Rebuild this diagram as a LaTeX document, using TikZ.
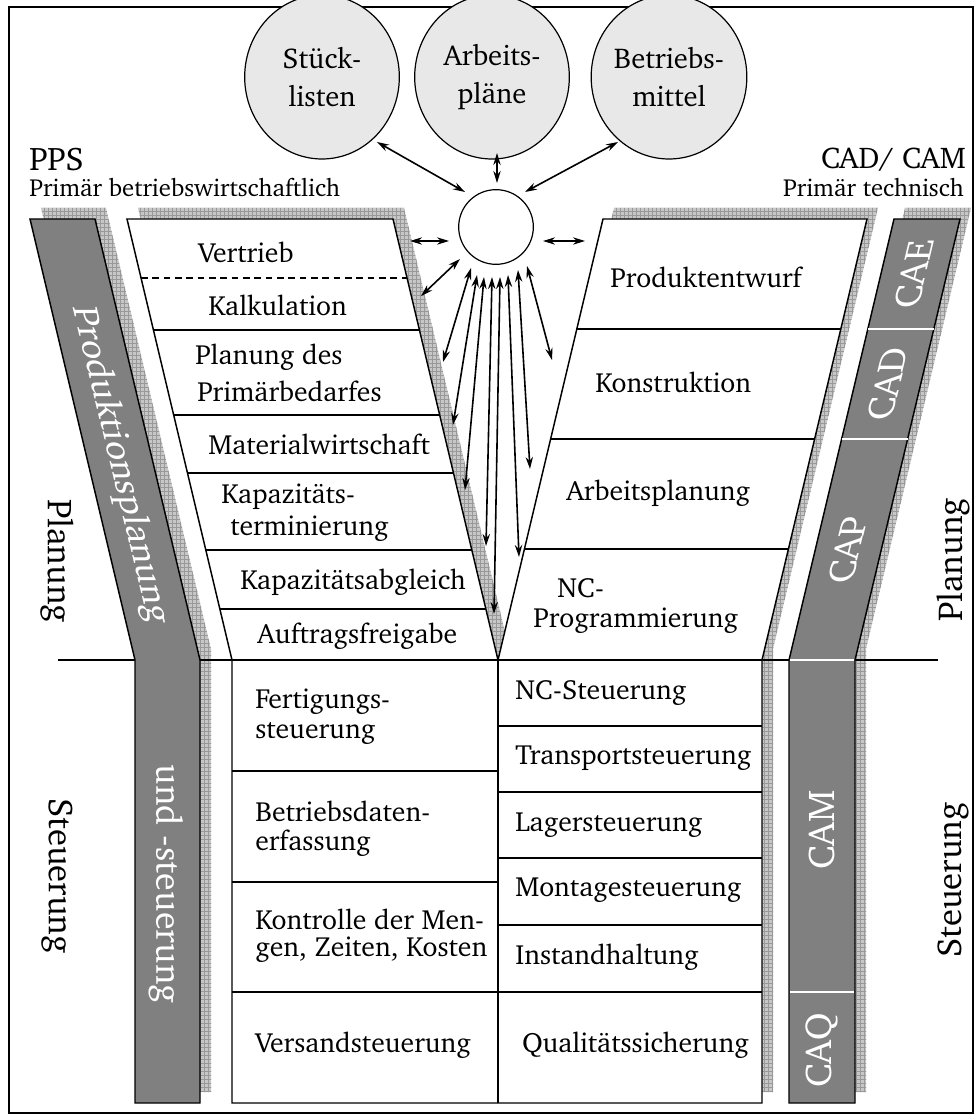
\documentclass[tikz,border=0pt]{standalone}
\usepackage[T1]{fontenc}
\usepackage{charter}
\usetikzlibrary{arrows.meta,patterns,shapes.geometric}
\begin{document}
\begin{tikzpicture}[x=0.75pt,y=-0.75pt,
  shade/.style={fill=black!22,postaction={pattern=grid,pattern color=black!40}},
  whitebox/.style={fill=white,draw=black,line width=1.1pt},
  band/.style={fill=black!50,draw=black,line width=1.1pt},
  sep/.style={draw=black,line width=1.1pt},
  wsep/.style={draw=white,line width=1.1pt},
  lbl/.style={font=\fontsize{20.8}{26}\selectfont,inner sep=0pt},
  lblL/.style={lbl,anchor=west},
  bandtxt/.style={text=white,font=\fontsize{27}{30}\selectfont,inner sep=0pt},
  captxt/.style={text=white,font=\fontsize{28}{30}\selectfont,inner sep=0pt},
  side/.style={font=\fontsize{26}{28}\selectfont,inner sep=0pt},
  head/.style={font=\fontsize{22.5}{26}\selectfont,inner sep=0pt},
  subhead/.style={font=\fontsize{18.5}{22}\selectfont,inner sep=0pt},
  db/.style={ellipse,draw=black,line width=0.9pt,fill=black!9,minimum width=116,minimum height=123,inner sep=0pt,align=center,font=\fontsize{21.5}{28}\selectfont},
  arr/.style={{Stealth[length=9pt,width=5.5pt]}-{Stealth[length=9pt,width=5.5pt]},line width=1.2pt},
]
\useasboundingbox (0,0) rectangle (980,1119);
\def\kk{0.2381}
% outer frame
\draw[line width=1.6pt] (9,7) rectangle (973,1113);

% ---------- hatched shadows ----------
\begin{scope}[shift={(11,-11)}]
  \path[shade] (30,219) -- (95,219) -- (200,660) -- (200,1103) -- (135,1103) -- (135,660) -- cycle;
  \path[shade] (127,219) -- (393,219) -- (498,660) -- (603,219) -- (867,219) -- (762,660)
     -- (762,1103) -- (232,1103) -- (232,660) -- cycle;
  \path[shade] (894,219) -- (960,219) -- (855,660) -- (855,1103) -- (789,1103) -- (789,660) -- cycle;
\end{scope}

% border between planning and control
\draw[line width=1pt] (58,660) coordinate (hl) -- (938,660) coordinate (hr);

% ---------- left band: Produktionsplanung und -steuerung ----------
\path[band] (30,219) -- (95,219) -- (200,660) -- (200,1103) -- (135,1103) -- (135,660) -- cycle;
\node[bandtxt,rotate=-90,yslant=0.24] (pp) at (120,465) {Produktionsplanung};
\node[bandtxt,rotate=-90] (ps) at (166,884) {und -steuerung};

% ---------- right band: CAE, CAD, CAP, CAM, CAQ ----------
\path[band] (894,219) -- (960,219) -- (855,660) -- (855,1103) -- (789,1103) -- (789,660) -- cycle;
\foreach \yy in {329,439} {
  \draw[wsep] ({894-\kk*(\yy-219)},\yy) -- ({960-\kk*(\yy-219)},\yy);
}
\draw[wsep] (790,660) -- (854,660);
\draw[wsep] (790,992) -- (854,992);
\node[captxt,rotate=90,yslant=-0.24] (cae) at (914,274) {CAE};
\node[captxt,rotate=90,yslant=-0.24] (cad) at (888,384) {CAD};
\node[captxt,rotate=90,yslant=-0.24] (cap) at (848,550) {CAP};
\node[captxt,rotate=90] (cam) at (822,830) {CAM};
\node[captxt,rotate=90] (caq) at (822,1050) {CAQ};

% ---------- Y-shaped body ----------
\path[whitebox] (127,219) -- (393,219) -- (498,660) -- (603,219) -- (867,219) -- (762,660)
   -- (762,1103) -- (232,1103) -- (232,660) -- cycle;
\draw[sep] (232,660) -- (762,660);
\draw[sep] (498,660) -- (498,1103);
% left funnel rows
\draw[sep,dashed,dash pattern=on 5pt off 3.5pt] ({127+\kk*(278-219)},278) -- ({393+\kk*(278-219)},278);
\foreach \yy in {330,415,473,550,609} {
  \draw[sep] ({127+\kk*(\yy-219)},\yy) -- ({393+\kk*(\yy-219)},\yy);
}
% right funnel rows
\foreach \yy in {329,439,549} {
  \draw[sep] ({603-\kk*(\yy-219)},\yy) -- ({867-\kk*(\yy-219)},\yy);
}
% control rows
\foreach \yy in {771,882,992} { \draw[sep] (232,\yy) -- (498,\yy); }
\foreach \yy in {726,792,858,925,992} { \draw[sep] (498,\yy) -- (762,\yy); }

% ---------- labels: PPS side ----------
\node[lblL] (vt) at (198,252) {Vertrieb};
\node[lblL] (kk) at (208,305) {Kalkulation};
\node[lblL] (pb1) at (195,357) {Planung des};
\node[lblL] (pb2) at (197,391) {Prim\"arbedarfes};
\node[lblL] (mw) at (208,444) {Materialwirtschaft};
\node[lblL] (kt1) at (221,497) {Kapazit\"ats-};
\node[lblL] (kt2) at (230,529) {terminierung};
\node[lblL] (ka) at (240,582) {Kapazit\"atsabgleich};
\node[lblL] (af) at (257,636) {Auftragsfreigabe};
\node[lblL] (fs1) at (255,702) {Fertigungs-};
\node[lblL] (fs2) at (255,734) {steuerung};
\node[lblL] (bd1) at (255,811) {Betriebsdaten-};
\node[lblL] (bd2) at (255,843) {erfassung};
\node[lblL] (km1) at (255,919) {Kontrolle der Men-};
\node[lblL] (km2) at (255,950) {gen, Zeiten, Kosten};
\node[lblL] (vs) at (255,1045) {Versandsteuerung};

% ---------- labels: CAD/CAM side ----------
\node[lblL] (pe) at (610,277) {Produktentwurf};
\node[lblL] (ko) at (595,382) {Konstruktion};
\node[lblL] (ap) at (566,493) {Arbeitsplanung};
\node[lblL] (nc1) at (557,588) {NC-};
\node[lblL] (nc2) at (533,621) {Programmierung};
\node[lblL] (ncs) at (515,693) {NC-Steuerung};
\node[lblL] (ts) at (515,758) {Transportsteuerung};
\node[lblL] (ls) at (515,825) {Lagersteuerung};
\node[lblL] (ms) at (515,890) {Montagesteuerung};
\node[lblL] (ih) at (515,957) {Instandhaltung};
\node[lblL] (qs) at (522,1045) {Qualit\"atssicherung};

% ---------- headings ----------
\node[head,anchor=west,font=\fontsize{24.5}{28}\selectfont] (pps) at (29,160) {PPS};
\node[subhead,anchor=west] (ppsb) at (29,188) {Prim\"ar betriebswirtschaftlich};
\node[head,anchor=east] (cc) at (966,160) {CAD/ CAM};
\node[subhead,anchor=east] (ccb) at (964,188) {Prim\"ar technisch};

% ---------- side labels ----------
\node[side,rotate=-90] (plL) at (57,561) {Planung};
\node[side,rotate=-90] (stL) at (57,876) {Steuerung};
\node[side,rotate=90] (plR) at (953,560) {Planung};
\node[side,rotate=90] (stR) at (953,880) {Steuerung};

% ---------- data bases ----------
\node[db] (sl) at (322,77) {St\"uck-\\listen};
\node[db] (apl) at (492,77) {Arbeits-\\pl\"ane};
\node[db] (bm) at (669,77) {Betriebs-\\mittel};
\node[circle,draw=black,line width=0.9pt,minimum size=56,inner sep=0pt] (db) at (496,227) {};

% ---------- connectors ----------
\coordinate (a1) at (377,142); \coordinate (b1) at (465,192);
\coordinate (a2) at (497,153); \coordinate (b2) at (497,183);
\coordinate (a3) at (618,142); \coordinate (b3) at (525,192);
\draw[arr] (a1) -- (b1);
\draw[arr] (a2) -- (b2);
\draw[arr] (a3) -- (b3);
\coordinate (h1a) at (410,241); \coordinate (h1b) at (449,241);
\coordinate (h2a) at (543,241); \coordinate (h2b) at (585,241);
\draw[arr] (h1a) -- (h1b);
\draw[arr] (h2a) -- (h2b);
\coordinate (d1a) at (460,259); \coordinate (d1b) at (421,296);
\draw[arr] (d1a) -- (d1b);
\foreach \sx/\sy/\ex/\ey [count=\i] in {471/268/443/362, 477/275/453/425, 484/277/465/490,
   492/277/486/546, 500/277/494/614, 508/275/519/557, 518/270/530/469, 527/266/552/360} {
  \coordinate (f\i a) at (\sx,\sy);
  \coordinate (f\i b) at (\ex,\ey);
  \draw[arr] (f\i a) -- (f\i b);
}
\end{tikzpicture}
\end{document}
